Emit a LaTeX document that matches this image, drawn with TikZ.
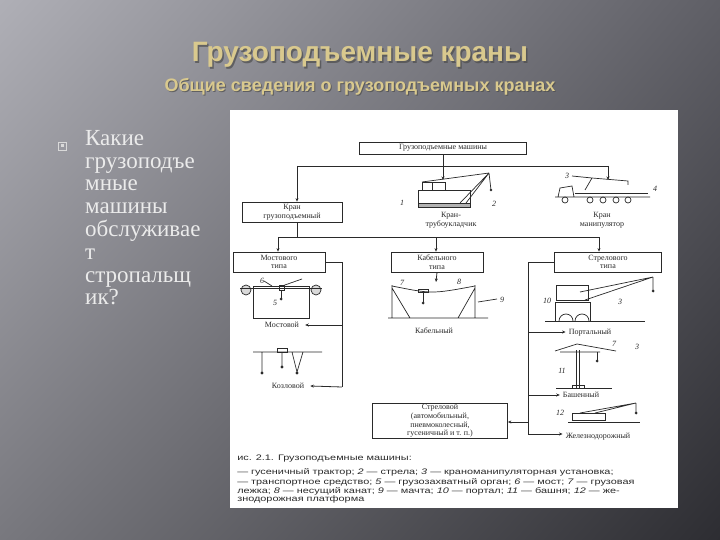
\documentclass[tikz,border=0pt]{standalone}
\usepackage{fontspec}
\setmainfont{Liberation Serif}
\newfontfamily\hdr{Liberation Sans}
\usetikzlibrary{arrows.meta,shadings}
\definecolor{ttl}{HTML}{D9C98E}
\definecolor{ink}{HTML}{2A2A2A}
\definecolor{bgul}{RGB}{175,175,182}
\definecolor{bgur}{RGB}{95,95,102}
\definecolor{bgll}{RGB}{120,120,126}
\definecolor{bglr}{RGB}{45,45,50}
\tikzset{
 box/.style={draw=ink,line width=0.8pt,fill=white,font=\fontsize{8}{8.6}\selectfont,text=ink,align=center,inner sep=1pt},
 lbl/.style={font=\fontsize{8}{8.6}\selectfont,text=ink,align=center,inner sep=0pt},
 con/.style={draw=ink,line width=0.8pt},
 arr/.style={con,-{Stealth[length=3.5pt,width=3pt]}},
 pic/.style={draw=ink,line width=0.7pt},
 captxt/.style={font=\hdr\fontsize{8}{9}\selectfont,text=ink,anchor=west,inner sep=0pt,xscale=1.36}
}
\begin{document}
\begin{tikzpicture}[x=1pt,y=-1pt]
\useasboundingbox (0,0) rectangle (720,540);
\shade[upper left=bgul,upper right=bgur,lower left=bgll,lower right=bglr] (0,0) rectangle (720,540);
% titles
\node[font=\hdr\bfseries\fontsize{28}{30}\selectfont,text=black!70,opacity=0.7] at (361.5,56.5) {Грузоподъемные краны};
\node[font=\hdr\bfseries\fontsize{28}{30}\selectfont,text=ttl] (t1) at (360,55) {Грузоподъемные краны};
\node[font=\hdr\bfseries\fontsize{18}{20}\selectfont,text=black!70,opacity=0.7] at (361,88) {Общие сведения о грузоподъемных кранах};
\node[font=\hdr\bfseries\fontsize{18}{20}\selectfont,text=ttl] (t2) at (360,87) {Общие сведения о грузоподъемных кранах};
\fill[ttl] (355,114) rectangle (359,121);
% bullet text
\node[draw=white!85!black,line width=0.6pt,minimum size=8pt,inner sep=0pt] (b) at (62,146) {};
\fill[white!85!black] (60.5,144.5) rectangle (63.5,147.5);
\node[anchor=north west,align=left,text=white!92!black,font=\fontsize{23}{22.8}\selectfont,inner sep=0pt] (q) at (85,130)
 {Какие\\грузоподъе\\мные\\машины\\обслуживае\\т\\стропальщ\\ик?};
% white picture area
\fill[white] (230,110) rectangle (678,508);
% top level
\node[box,minimum width=167pt,minimum height=12pt] (gm) at (443,148) {Грузоподъемные машины};
\coordinate (j1) at (443,166);
\coordinate (l1) at (297,166);
\coordinate (r1) at (608,166);
\draw[con] (gm) -- (j1);
\draw[con] (l1) -- (r1);
\node[box,minimum width=100pt,minimum height=20pt] (kg) at (292,212) {Кран\\грузоподъемный};
\coordinate (pipe) at (443,180);
\coordinate (trk) at (608,180);
\draw[arr] (l1) -- (kg.north -| l1);
\draw[arr] (j1) -- (pipe);
\draw[arr] (r1) -- (trk);
% pipelayer crane
\draw[pic,fill=white] (418,190) rectangle (470,205);
\draw[pic] (422,190) rectangle (445,182) (432,182)--(432,190);
\draw[pic,fill=gray!60] (418,203) rectangle (470,207);
\draw[pic] (460,203)--(489,173)--(466,203) (489,173)--(422,182) (489,173)--(491,190);
\fill[ink] (491,190) circle (1.3pt);
\node[lbl] at (402,203) {\itshape 1};
\node[lbl] at (494,204) {\itshape 2};
\node[lbl] (lp) at (451,220) {Кран-\\трубоукладчик};
% truck
\draw[pic] (555,197)--(650,197) (558,197)--(560,188)--(572,186)--(574,197);
\draw[pic] (575,193)--(648,193);
\foreach \x in {565,590,603,616,628} \draw[pic] (\x,200) circle (3pt);
\draw[pic] (585,190)--(592,178)--(628,181)--(628,185) (592,178)--(572,176);
\node[lbl] at (567,176) {\itshape 3};
\node[lbl] at (655,189) {\itshape 4};
\node[lbl] (lt) at (602,220) {Кран\\манипулятор};
% second level
\coordinate (j2) at (297,237);
\coordinate (l2) at (278,237);
\coordinate (m2) at (436,237);
\coordinate (r2) at (599,237);
\draw[con] (kg.south -| j2) -- (j2);
\draw[con] (l2) -- (r2);
\node[box,minimum width=92pt,minimum height=20pt] (mt) at (279,262) {Мостового\\типа};
\node[box,minimum width=92pt,minimum height=20pt] (kt) at (437,262) {Кабельного\\типа};
\node[box,minimum width=107pt,minimum height=20pt] (st) at (608,262) {Стрелового\\типа};
\draw[arr] (l2) -- (mt.north -| l2);
\draw[arr] (m2) -- (kt.north -| m2);
\draw[arr] (r2) -- (st.north -| r2);
% bridge branch
\coordinate (mb1) at (342,262);
\coordinate (mb2) at (342,387);
\draw[con] (mt.east) -- (mb1) -- (mb2);
\node[lbl] (lm) at (282,325) {Мостовой};
\node[lbl] (lk) at (288,386) {Козловой};
\draw[arr] (mb2) -- ([xshift=6pt]lk.east);
\draw[arr] (342,325) -- ([xshift=6pt]lm.east);
% bridge crane picture
\draw[pic] (253,286) rectangle (309,318);
\draw[pic,fill=gray!30] (246,290) circle (5pt) (316,290) circle (5pt);
\draw[pic] (240,288)--(322,288) (279,285) rectangle (284,290) (281,290)--(281,298);
\fill[ink] (281,299) circle (1.5pt);
\node[lbl] at (262,281) {\itshape 6};
\node[lbl] at (275,303) {\itshape 5};
\draw[pic] (264,281)--(272,286) (282,286)--(302,279);
% gantry
\draw[pic] (253,352)--(322,352) (262,352)--(262,372) (292,352)--(297,372)--(303,352) (282,352)--(282,366);
\draw[pic] (277,348) rectangle (287,352);
\fill[ink] (262,373) circle (1.6pt) (297,373) circle (1.6pt) (282,367) circle (1.6pt);
% cable crane
\draw[arr] (kt.south) -- (436,282);
\draw[pic] (388,318)--(488,318) (392,285)--(392,318) (475,285)--(475,318) (392,288)--(410,318) (475,288)--(458,318);
\draw[pic] (392,286) .. controls (432,294) .. (475,286);
\draw[pic] (418,289) rectangle (428,292) (423,292)--(423,302);
\fill[ink] (423,303) circle (1.5pt);
\node[lbl] at (402,283) {\itshape 7};
\node[lbl] at (459,282) {\itshape 8};
\node[lbl] at (502,300) {\itshape 9};
\draw[pic] (478,302)--(497,299);
\node[lbl] (lc) at (434,331) {Кабельный};
% jib branch
\coordinate (sb1) at (528,262);
\coordinate (sb2) at (528,434);
\draw[con] (st.west) -- (sb1) -- (sb2);
\node[lbl] (lpo) at (590,333) {Портальный};
\node[lbl] (lb) at (581,395) {Башенный};
\node[lbl] (lz) at (598,437) {Железнодорожный};
\draw[arr] (528,332) -- ([xshift=-3pt]lpo.west |- 528,332);
\draw[arr] (528,395) -- ([xshift=-3pt]lb.west |- 528,395);
\draw[arr] (sb2) -- ([xshift=-3pt]lz.west |- sb2);
\node[box,minimum width=135pt,minimum height=31pt] (sa) at (440,421) {Стреловой\\(автомобильный,\\пневмоколесный,\\гусеничный и т. п.)};
\draw[arr] (528,422) -- (sa.east |- 528,422);
% portal crane
\draw[pic] (545,321)--(645,321) (555,302) rectangle (590,321);
\draw[pic] (559,321) arc (180:0:7pt) (575,321) arc (180:0:7pt);
\draw[pic,fill=white] (556,285) rectangle (588,300);
\draw[pic] (580,292)--(653,277)--(585,300) (653,277)--(653,290);
\fill[ink] (653,291) circle (1.5pt);
\node[lbl] at (547,301) {\itshape 10};
\node[lbl] at (620,302) {\itshape 3};
% tower crane
\draw[pic] (556,388)--(612,388) (576,388)--(576,350) (579,388)--(579,350);
\draw[pic] (572,385) rectangle (584,388);
\draw[pic] (555,351)--(577,344)--(616,351) (560,352)--(600,352);
\draw[pic] (597,352)--(597,360);
\fill[ink] (597,361) circle (1.5pt);
\node[lbl] at (562,371) {\itshape 11};
\node[lbl] at (614,344) {\itshape 7};
\node[lbl] at (637,347) {\itshape 3};
% railway crane
\draw[pic] (568,422)--(640,422) (572,413) rectangle (605,420);
\draw[pic] (580,413)--(636,403)--(595,413) (636,403)--(636,412);
\fill[ink] (636,413) circle (1.5pt);
\node[lbl] at (560,413) {\itshape 12};
% caption
\node[captxt] at (237,459) {ис. 2.1. Грузоподъемные машины:};
\node[captxt] at (237,472) {— гусеничный трактор; \textit{2} — стрела; \textit{3} — краноманипуляторная установка;};
\node[captxt] at (237,482) {— транспортное средство; \textit{5} — грузозахватный орган; \textit{6} — мост; \textit{7} — грузовая};
\node[captxt] at (237,491) {лежка; \textit{8} — несущий канат; \textit{9} — мачта; \textit{10} — портал; \textit{11} — башня; \textit{12} — же-};
\node[captxt] at (237,499) {знодорожная платформа};
\end{tikzpicture}
\end{document}
